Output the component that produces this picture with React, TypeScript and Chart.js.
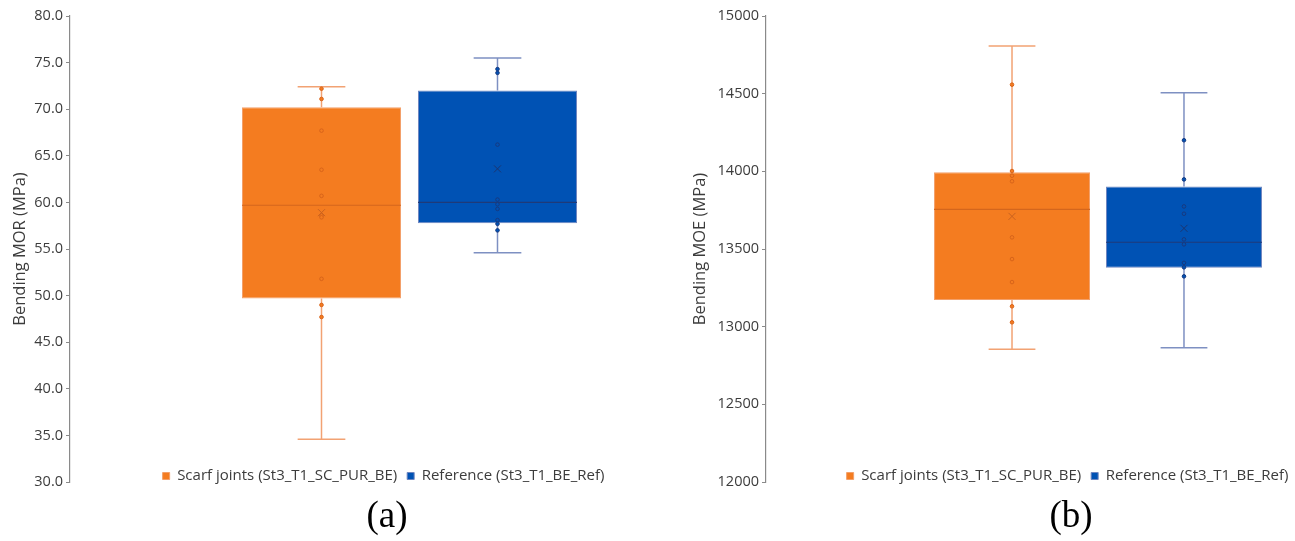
import React, { useEffect, useRef } from 'react';
import { Chart, registerables } from 'chart.js';

Chart.register(...registerables);

// ---------- data ----------
const seriesNames = ['Scarf joints (St3_T1_SC_PUR_BE)', 'Reference (St3_T1_BE_Ref)'];

// (a) Bending MOR (MPa) — box stats: [min, q1, median, q3, max]
const morScarfStats = [34.6, 49.7, 59.7, 70.2, 72.4];
const morScarfMean = 58.9;
const morScarfPoints = [72.2, 71.1, 67.7, 63.5, 60.7, 58.6, 58.4, 51.8, 49.0, 47.7];
const morRefStats = [54.6, 57.75, 60.0, 72.0, 75.5];
const morRefMean = 63.6;
const morRefPoints = [74.3, 73.9, 66.2, 60.3, 59.8, 59.3, 58.1, 57.7, 57.0];
const morAxis = [30, 80, 5]; // min, max, step

// (b) Bending MOE (MPa)
const moeScarfStats = [12854, 13171, 13755, 13994, 14807];
const moeScarfMean = 13710;
const moeScarfPoints = [14558, 14002, 13972, 13936, 13575, 13435, 13287, 13131, 13028];
const moeRefStats = [12864, 13379, 13543, 13903, 14506];
const moeRefMean = 13633;
const moeRefPoints = [14200, 13948, 13774, 13727, 13562, 13530, 13411, 13382, 13324];
const moeAxis = [12000, 15000, 500];

const captions = ['(a)', '(b)'];
const yTitles = ['Bending MOR (MPa)', 'Bending MOE (MPa)'];

// ---------- styles ----------
const orange = {
  fill: '#F47C20', border: '#F3A06A', whisker: '#F2A273', median: '#D4661C',
  pointFill: '#F47C20', pointStroke: '#D8641A', mean: '#C9621F',
};
const blue = {
  fill: '#0052B4', border: '#6F86C0', whisker: '#7E90C2', median: '#1F3A78',
  pointFill: '#0052B4', pointStroke: '#173A80', mean: '#1B3570',
};
const FONT = "'Open Sans', 'DejaVu Sans', sans-serif";
const TEXT = '#3c3c3c';
const AXIS = '#8a8a8a';

const boxExtras = {
  id: 'boxExtras',
  afterDatasetsDraw(chart: any, _a: any, opts: any) {
    const ctx = chart.ctx;
    const ys = chart.scales.y;
    const Y = (v: number) => ys.getPixelForValue(v);
    (opts.boxes || []).forEach((b: any, i: number) => {
      const bar = chart.getDatasetMeta(i).data[0];
      if (!bar) return;
      const cx = bar.x;
      const w = bar.width;
      const [mn, q1, med, q3, mx] = b.stats;
      const st = b.style;
      ctx.save();
      ctx.lineCap = 'butt';
      // whiskers
      ctx.strokeStyle = st.whisker;
      ctx.lineWidth = 1.5;
      ctx.beginPath();
      ctx.moveTo(cx, Y(mx)); ctx.lineTo(cx, Y(q3));
      ctx.moveTo(cx, Y(q1)); ctx.lineTo(cx, Y(mn));
      const cw = w * 0.15;
      ctx.moveTo(cx - cw, Y(mx)); ctx.lineTo(cx + cw, Y(mx));
      ctx.moveTo(cx - cw, Y(mn)); ctx.lineTo(cx + cw, Y(mn));
      ctx.stroke();
      // median
      ctx.strokeStyle = st.median;
      ctx.lineWidth = 1.1;
      ctx.beginPath();
      ctx.moveTo(cx - w / 2, Y(med)); ctx.lineTo(cx + w / 2, Y(med));
      ctx.stroke();
      // points
      ctx.lineWidth = 1;
      b.points.forEach((v: number) => {
        ctx.beginPath();
        ctx.arc(cx, Y(v), 1.8, 0, Math.PI * 2);
        ctx.fillStyle = st.pointFill;
        ctx.fill();
        ctx.strokeStyle = st.pointStroke;
        ctx.stroke();
      });
      // mean marker
      const my = Y(b.mean);
      const s = 3.5;
      ctx.strokeStyle = st.mean;
      ctx.lineWidth = 1;
      ctx.beginPath();
      ctx.moveTo(cx - s, my - s); ctx.lineTo(cx + s, my + s);
      ctx.moveTo(cx - s, my + s); ctx.lineTo(cx + s, my - s);
      ctx.stroke();
      ctx.restore();
    });
  },
};

const placeBottom = {
  id: 'placeBottom',
  afterLayout(chart: any, _a: any, opts: any) {
    const lg = chart.legend;
    if (lg && opts.legend) {
      const pad = lg.options.labels.padding;
      const fs = lg.options.labels.font.size;
      const dx = opts.legend[0] - (lg.left + lg.right) / 2;
      const dy = opts.legend[1] - (lg.top + pad + fs / 2);
      lg.left += dx; lg.right += dx; lg.top += dy; lg.bottom += dy;
    }
    const tb = chart.titleBlock;
    if (tb && opts.title) {
      const dx = opts.title[0] - (tb.left + tb.right) / 2;
      const dy = opts.title[1] - (tb.top + tb.bottom) / 2;
      tb.left += dx; tb.right += dx; tb.top += dy; tb.bottom += dy;
    }
  },
};

type PanelProps = {
  left: number; width: number; axisWidth: number; padRight: number;
  catPct: number; barPct: number;
  axis: number[]; decimals: number; yTitle: string; caption: string;
  scarfStats: number[]; scarfMean: number; scarfPoints: number[];
  refStats: number[]; refMean: number; refPoints: number[];
  legendCenter: number[]; captionCenter: number[];
};

function Panel(p: PanelProps) {
  const ref = useRef<HTMLCanvasElement>(null);
  useEffect(() => {
    if (!ref.current) return;
    const chart = new Chart(ref.current, {
      type: 'bar',
      data: {
        labels: [''],
        datasets: [
          {
            label: seriesNames[0], data: [[p.scarfStats[1], p.scarfStats[3]]] as any,
            backgroundColor: orange.fill, borderColor: orange.border, borderWidth: 1,
            borderSkipped: false, categoryPercentage: p.catPct, barPercentage: p.barPct,
          },
          {
            label: seriesNames[1], data: [[p.refStats[1], p.refStats[3]]] as any,
            backgroundColor: blue.fill, borderColor: blue.border, borderWidth: 1,
            borderSkipped: false, categoryPercentage: p.catPct, barPercentage: p.barPct,
          },
        ],
      },
      options: {
        responsive: false,
        animation: false,
        events: [],
        layout: { padding: { left: 0, top: 16, right: p.padRight, bottom: -13 } },
        scales: {
          x: { display: false },
          y: {
            min: p.axis[0], max: p.axis[1],
            afterFit: (s: any) => { s.width = p.axisWidth; },
            ticks: {
              stepSize: p.axis[2], color: TEXT, padding: 3,
              font: { family: FONT, size: 14.5 },
              callback: (v: any) => Number(v).toFixed(p.decimals),
            },
            grid: { display: true, drawOnChartArea: false, drawTicks: true, tickLength: 4, color: AXIS, lineWidth: 1 },
            border: { display: true, color: AXIS, width: 1.2 },
            title: {
              display: true, text: p.yTitle, color: TEXT,
              font: { family: FONT, size: 16.5 }, padding: { top: 10, bottom: 0 },
            },
          },
        },
        plugins: {
          tooltip: { enabled: false },
          legend: {
            display: true, position: 'bottom',
            labels: {
              boxWidth: 7, boxHeight: 7, padding: 10, color: TEXT,
              font: { family: FONT, size: 15 },
            },
          },
          title: {
            display: true, position: 'bottom', text: p.caption, color: '#000',
            font: { family: "'Liberation Serif', 'DejaVu Serif', serif", size: 37, weight: 'normal', lineHeight: 1 },
            padding: 0,
          },
          boxExtras: {
            boxes: [
              { stats: p.scarfStats, mean: p.scarfMean, points: p.scarfPoints, style: orange },
              { stats: p.refStats, mean: p.refMean, points: p.refPoints, style: blue },
            ],
          },
          placeBottom: { legend: p.legendCenter, title: p.captionCenter },
        } as any,
      },
      plugins: [boxExtras, placeBottom],
    });
    return () => chart.destroy();
  }, []);
  return (
    <canvas
      ref={ref}
      width={p.width}
      height={541}
      style={{ position: 'absolute', left: p.left, top: 0, width: p.width, height: 541 }}
    />
  );
}

export default function App() {
  return (
    <div style={{ position: 'fixed', left: 0, top: 0, width: 1295, height: 541, overflow: 'hidden', background: '#fff' }}>
      <Panel
        left={0} width={772} axisWidth={70} padRight={23} catPct={0.5184} barPct={0.9034}
        axis={morAxis} decimals={1} yTitle={yTitles[0]} caption={captions[0]}
        scarfStats={morScarfStats} scarfMean={morScarfMean} scarfPoints={morScarfPoints}
        refStats={morRefStats} refMean={morRefMean} refPoints={morRefPoints}
        legendCenter={[383.5, 476]} captionCenter={[387, 517]}
      />
      <Panel
        left={680} width={774} axisWidth={86} padRight={24} catPct={0.518} barPct={0.907}
        axis={moeAxis} decimals={0} yTitle={yTitles[1]} caption={captions[1]}
        scarfStats={moeScarfStats} scarfMean={moeScarfMean} scarfPoints={moeScarfPoints}
        refStats={moeRefStats} refMean={moeRefMean} refPoints={moeRefPoints}
        legendCenter={[1067.5 - 680, 476]} captionCenter={[1071 - 680, 517]}
      />
    </div>
  );
}
